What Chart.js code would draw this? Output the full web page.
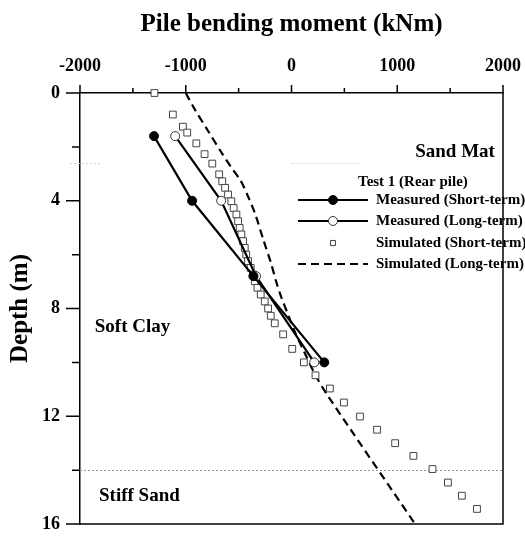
<!DOCTYPE html>
<html>
<head>
<meta charset="utf-8">
<script src="https://cdn.jsdelivr.net/npm/chart.js@4.4.0/dist/chart.umd.min.js"></script>
<style>
body{margin:0;background:#fff}
canvas{display:block}
</style>
</head>
<body>
<canvas id="moment" width="525" height="536"></canvas>
<script>
// bending moment (kNm) against depth (m), rear pile of test 1
var meas_short_depth = [1.6, 4.0, 6.8, 10.0];
var meas_short_moment = [-1300, -940, -360, 310];

var meas_long_depth = [1.6, 4.0, 6.8, 10.0];
var meas_long_moment = [-1100, -665, -335, 215];

var sim_short_depth = [0, 0.8, 1.25, 1.47, 1.87, 2.27, 2.62, 3.02, 3.28, 3.52, 3.77, 4.02, 4.27, 4.51, 4.76, 5.01,
    5.25, 5.5, 5.75, 6.0, 6.24, 6.49, 6.74, 6.99, 7.23, 7.48, 7.74, 8.0, 8.27, 8.55, 8.96, 9.5, 10.0, 10.48,
    10.97, 11.49, 12.01, 12.5, 13.0, 13.47, 13.96, 14.46, 14.95, 15.44];
var sim_short_moment = [-1296, -1122, -1027, -986, -900, -822, -749, -684, -655, -628, -600, -569, -547, -521, -505, -490,
    -474, -458, -442, -428, -411, -386, -363, -347, -322, -291, -253, -221, -196, -158, -79, 7, 117, 227,
    363, 496, 648, 809, 980, 1153, 1333, 1479, 1611, 1754];

var sim_long_depth = [0, 0.6, 1.4, 2.2, 2.75, 3.25, 3.8, 4.45, 5.5, 6.3, 7.0, 7.6, 8.3, 8.9, 9.65, 10.5, 11.25, 16];
var sim_long_moment = [-1000, -916, -790, -664, -572, -482, -415, -347, -262, -195, -145, -95, -25, 35, 125, 230, 345, 1169];

var legend_labels = ['Measured (Short-term)', 'Measured (Long-term)', 'Simulated (Short-term)', 'Simulated (Long-term)'];

// soil layers: name, depth where the label sits, moment where it starts
var layer_names = ['Sand Mat', 'Soft Clay', 'Stiff Sand'];
var layer_label_depth = [2.2, 8.7, 14.98];
var layer_label_moment = [1170, -1860, -1820];
var layer_bounds = [2.6, 14.0];

var x_minor = [-1500, -500, 500, 1500];
var y_minor = [2, 6, 10, 14];

function toPoints(xs, ys){
    var pts = [];
    for(var i=0;i<xs.length;i++){
        pts.push({x: xs[i], y: ys[i]});
    }
    return pts;
}

var serif = "'Liberation Serif', 'Times New Roman', serif";

// frame, minor ticks, layer lines, labels and legend
var decor = {
    id: 'decor',
    beforeDatasetsDraw: function(chart){
        var ctx = chart.ctx, xs = chart.scales.x, ys = chart.scales.y, a = chart.chartArea;
        ctx.save();
        ctx.lineWidth = 1;
        ctx.setLineDash([2, 2]);
        ctx.strokeStyle = '#9a9a9a';
        var yb = Math.round(ys.getPixelForValue(layer_bounds[1])) + 0.5;
        ctx.beginPath(); ctx.moveTo(a.left - 8, yb); ctx.lineTo(a.right, yb); ctx.stroke();
        ctx.strokeStyle = '#d5d5d5';
        yb = Math.round(ys.getPixelForValue(layer_bounds[0])) + 0.5;
        ctx.beginPath(); ctx.moveTo(a.left - 10, yb); ctx.lineTo(a.left + 20, yb);
        ctx.moveTo(xs.getPixelForValue(0), yb); ctx.lineTo(xs.getPixelForValue(650), yb); ctx.stroke();
        ctx.restore();
    },
    afterDraw: function(chart){
        var ctx = chart.ctx, xs = chart.scales.x, ys = chart.scales.y, a = chart.chartArea;
        var sets = chart.data.datasets;
        ctx.save();

        // layer names
        ctx.fillStyle = '#000';
        ctx.font = 'bold 19px ' + serif;
        ctx.textAlign = 'left';
        ctx.textBaseline = 'middle';
        for(var i=0;i<layer_names.length;i++){
            ctx.fillText(layer_names[i], xs.getPixelForValue(layer_label_moment[i]), ys.getPixelForValue(layer_label_depth[i]));
        }

        // legend
        var lx = 298, ly = 200, step = 21;
        ctx.font = 'bold 15px ' + serif;
        ctx.fillText('Test 1 (Rear pile)', 358, 182);
        for(i=0;i<sets.length;i++){
            var d = sets[i], y = ly + i*step + (i>1 ? 1 : 0);
            if(d.showLine){
                ctx.lineWidth = d.borderWidth;
                ctx.strokeStyle = d.borderColor;
                ctx.setLineDash(d.borderDash || []);
                ctx.beginPath(); ctx.moveTo(lx, y); ctx.lineTo(lx + 70, y); ctx.stroke();
                ctx.setLineDash([]);
            }
            if(d.pointRadius > 0){
                ctx.lineWidth = d.pointBorderWidth;
                ctx.strokeStyle = d.pointBorderColor;
                ctx.fillStyle = d.pointBackgroundColor;
                Chart.helpers.drawPoint(ctx, {
                    pointStyle: d.pointStyle,
                    rotation: 0,
                    borderWidth: d.pointBorderWidth,
                    radius: d.pointStyle === 'rect' ? 3.6 : d.pointRadius
                }, lx + 35, y);
            }
            ctx.fillStyle = '#000';
            ctx.fillText(legend_labels[i], 376, y);
        }

        // right and bottom edges of the frame
        ctx.strokeStyle = '#000';
        ctx.lineWidth = 1.5;
        ctx.beginPath();
        ctx.moveTo(a.right, a.top); ctx.lineTo(a.right, a.bottom); ctx.lineTo(a.left, a.bottom);
        ctx.stroke();

        // tick marks, majors from the scales and minors in between
        ctx.beginPath();
        xs.ticks.forEach(function(t){
            var px = xs.getPixelForValue(t.value);
            ctx.moveTo(px, a.top); ctx.lineTo(px, a.top - 8);
        });
        x_minor.forEach(function(v){
            var px = xs.getPixelForValue(v);
            ctx.moveTo(px, a.top); ctx.lineTo(px, a.top - 5);
        });
        ys.ticks.forEach(function(t){
            var py = ys.getPixelForValue(t.value);
            ctx.moveTo(a.left, py); ctx.lineTo(a.left - 14, py);
        });
        y_minor.forEach(function(v){
            var py = ys.getPixelForValue(v);
            ctx.moveTo(a.left, py); ctx.lineTo(a.left - 8, py);
        });
        ctx.stroke();
        ctx.restore();
    }
};

var ctx = document.getElementById('moment').getContext('2d');

new Chart(ctx, {
    type: 'scatter',
    data: {
        datasets: [{
            label: legend_labels[0],
            data: toPoints(meas_short_moment, meas_short_depth),
            showLine: true,
            clip: false,
            borderColor: '#000',
            borderWidth: 2.2,
            pointStyle: 'circle',
            pointRadius: 4.5,
            pointBorderWidth: 1,
            pointBorderColor: '#000',
            pointBackgroundColor: '#000'
        }, {
            label: legend_labels[1],
            data: toPoints(meas_long_moment, meas_long_depth),
            showLine: true,
            clip: false,
            borderColor: '#000',
            borderWidth: 2.2,
            pointStyle: 'circle',
            pointRadius: 4.5,
            pointBorderWidth: 1,
            pointBorderColor: '#333',
            pointBackgroundColor: '#fff'
        }, {
            label: legend_labels[2],
            data: toPoints(sim_short_moment, sim_short_depth),
            showLine: false,
            clip: false,
            pointStyle: 'rect',
            pointRadius: 4.8,
            pointBorderWidth: 1,
            pointBorderColor: '#444',
            pointBackgroundColor: '#fff'
        }, {
            label: legend_labels[3],
            data: toPoints(sim_long_moment, sim_long_depth),
            showLine: true,
            clip: false,
            borderColor: '#000',
            borderWidth: 2.2,
            borderDash: [8, 5],
            tension: 0.3,
            pointRadius: 0
        }]
    },
    options: {
        responsive: false,
        animation: false,
        events: [],
        layout: {padding: {top: 0, left: 0, right: 22, bottom: 12}},
        plugins: {legend: {display: false}, tooltip: {enabled: false}},
        scales: {
            x: {
                type: 'linear',
                position: 'top',
                min: -2000,
                max: 2000,
                afterFit: function(scale){
                    scale.height = 93;
                    scale.paddingLeft = 0;
                    scale.paddingRight = 0;
                },
                ticks: {
                    stepSize: 1000, color: '#000', padding: 16,
                    font: {family: serif, size: 18, weight: 'bold'},
                    callback: function(v){ return String(v); }
                },
                grid: {display: false, drawTicks: false},
                border: {display: true, color: '#000', width: 1.5},
                title: {display: true, text: 'Pile bending moment (kNm)', color: '#000', padding: {top: 10, bottom: 0},
                    font: {family: serif, size: 25, weight: 'bold'}}
            },
            y: {
                type: 'linear',
                reverse: true,
                min: 0,
                max: 16,
                afterFit: function(scale){
                    scale.width = 80;
                    scale.paddingTop = 0;
                    scale.paddingBottom = 0;
                },
                ticks: {
                    stepSize: 4, color: '#000', padding: 20,
                    font: {family: serif, size: 18, weight: 'bold'},
                    callback: function(v){ return String(v); }
                },
                grid: {display: false, drawTicks: false},
                border: {display: true, color: '#000', width: 1.5},
                title: {display: true, text: 'Depth (m)', color: '#000', padding: {top: 6, bottom: 0},
                    font: {family: serif, size: 25, weight: 'bold'}}
            }
        }
    },
    plugins: [decor]
});
</script>
</body>
</html>
